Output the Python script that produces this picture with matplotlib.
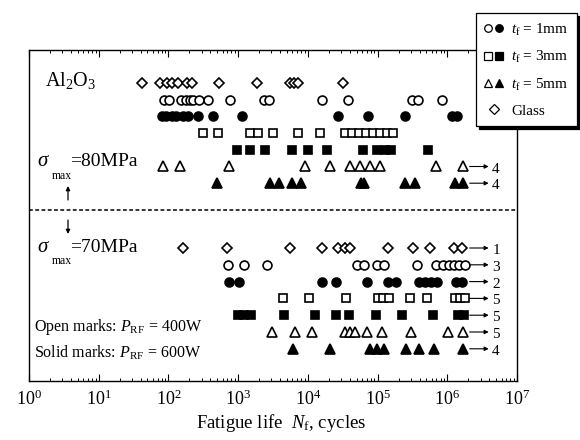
import numpy as np
import matplotlib
matplotlib.use('Agg')
import matplotlib.pyplot as plt
from matplotlib.lines import Line2D
from matplotlib.legend_handler import HandlerTuple
from matplotlib.ticker import LogLocator, LogFormatterMathtext, NullFormatter
from matplotlib.patches import FancyArrowPatch
import matplotlib.transforms as mtransforms

plt.rcParams['font.family'] = ['Liberation Serif', 'DejaVu Serif']
plt.rcParams['mathtext.fontset'] = 'custom'
plt.rcParams['mathtext.rm'] = 'Liberation Serif'
plt.rcParams['mathtext.it'] = 'Liberation Serif:italic'
plt.rcParams['mathtext.bf'] = 'Liberation Serif:bold'

# ---------------- data (fatigue life, cycles) ----------------
groups = ['Glass', 'tf1_400W', 'tf1_600W', 'tf3_400W', 'tf3_600W', 'tf5_400W', 'tf5_600W']

# sigma_max = 80 MPa
life80_glass = [42, 76, 95, 112, 137, 185, 218, 532, 1870, 5550, 6330, 7230, 31900]
life80_tf1_400 = [86, 102, 151, 179, 204, 225, 275, 370, 765, 2350, 2770, 16000, 37700,
                  312000, 380000, 841000]
life80_tf1_600 = [81, 92, 112, 128, 162, 191, 266, 436, 1140, 27100, 72900, 248000,
                  1170000, 1380000]
life80_tf3_400 = [313, 514, 1480, 1930, 3160, 7230, 14900, 34100, 43000, 54200, 68200,
                  86000, 108000, 137000, 167000]
life80_tf3_600 = [963, 1480, 2430, 5930, 10050, 18800, 61800, 98200, 128000, 156000, 529000]
life80_tf5_400 = [84, 147, 740, 9110, 20800, 40300, 56000, 78000, 108000, 689000, 1680000]
life80_tf5_600 = [498, 2870, 3860, 5930, 7980, 57900, 63900, 248000, 344000, 1290000, 1680000]
runout80 = [0, 0, 0, 0, 0, 4, 4]

# sigma_max = 70 MPa
life70_glass = [162, 692, 5550, 16000, 27100, 34100, 40300, 141000, 323000, 565000,
                1250000, 1630000]
life70_tf1_400 = [716, 1210, 2600, 50700, 63900, 98200, 124000, 368000, 689000, 869000,
                  1060000, 1250000, 1470000, 1800000]
life70_tf1_600 = [740, 1030, 16000, 25300, 70600, 141000, 184000, 393000, 480000, 584000,
                  713000, 1330000, 1630000]
life70_tf3_400 = [4400, 10400, 35300, 101000, 120000, 146000, 292000, 512000, 1290000,
                  1520000, 1800000]
life70_tf3_600 = [995, 1210, 1530, 4550, 12700, 25300, 38900, 95000, 224000, 624000,
                  1430000, 1740000]
life70_tf5_400 = [3060, 6540, 11500, 34100, 40300, 47500, 70600, 116000, 302000, 1030000,
                  1680000]
life70_tf5_600 = [6120, 20800, 78000, 98200, 124000, 256000, 393000, 645000, 1680000]
runout70 = [1, 3, 2, 5, 5, 5, 4]

legend_labels = [r'$t_{\rm f}$ = 1mm', r'$t_{\rm f}$ = 3mm', r'$t_{\rm f}$ = 5mm', 'Glass']
xtick_values = [1e0, 1e1, 1e2, 1e3, 1e4, 1e5, 1e6, 1e7]

blocks80 = [life80_glass, life80_tf1_400, life80_tf1_600, life80_tf3_400,
            life80_tf3_600, life80_tf5_400, life80_tf5_600]
blocks70 = [life70_glass, life70_tf1_400, life70_tf1_600, life70_tf3_400,
            life70_tf3_600, life70_tf5_400, life70_tf5_600]

# ---------------- styles ----------------
styles = [
    dict(marker='D', ms=5.6, mfc='white'),
    dict(marker='o', ms=6.4, mfc='white'),
    dict(marker='o', ms=6.4, mfc='black'),
    dict(marker='s', ms=6.4, mfc='white'),
    dict(marker='s', ms=6.4, mfc='black'),
    dict(marker='^', ms=7.2, mfc='white'),
    dict(marker='^', ms=7.2, mfc='black'),
]

W, H = 580, 440
fig = plt.figure(figsize=(W / 100, H / 100), dpi=100)
ax = fig.add_axes([29 / W, 1 - 381 / H, 488 / W, 331 / H])
ax.set_xscale('log')
ax.set_xlim(1, 1e7)
ax.set_ylim(331, 0)

row_y80 = [33 + 16.7 * k for k in range(7)]
row_y70 = [198 + 16.8 * k for k in range(7)]

for rows, block in ((row_y80, blocks80), (row_y70, blocks70)):
    for y, vals, st in zip(rows, block, styles):
        ax.plot(vals, [y] * len(vals), ls='none', marker=st['marker'], ms=st['ms'],
                mfc=st['mfc'], mec='black', mew=1.2, zorder=3)

# dashed separator
ax.axhline(160, color='black', lw=1.1, dashes=(2.5, 1.6))

# run-out arrows
trans = mtransforms.blended_transform_factory(ax.transAxes, ax.transData)
for rows, runs in ((row_y80, runout80), (row_y70, runout70)):
    for y, n in zip(rows, runs):
        if n:
            ax.annotate('', xy=(0.942, y), xytext=(0.903, y), xycoords=trans,
                        textcoords=trans,
                        arrowprops=dict(arrowstyle='-|>', lw=0.8, color='black',
                                        mutation_scale=6, shrinkA=0, shrinkB=0))
            ax.text(0.957, y + 2.5, str(n), transform=trans, ha='center', va='center',
                    fontsize=11)

# axes styling
for sp in ax.spines.values():
    sp.set_linewidth(1.0)
ax.set_xticks(xtick_values)
ax.xaxis.set_major_formatter(LogFormatterMathtext())
ax.xaxis.set_minor_locator(LogLocator(base=10, subs=np.arange(2, 10), numticks=100))
ax.xaxis.set_minor_formatter(NullFormatter())
ax.set_yticks([])
ax.tick_params(axis='x', which='major', direction='in', top=True, bottom=True,
               length=5, width=0.8, labelsize=13, pad=6)
ax.tick_params(axis='x', which='minor', direction='in', top=True, bottom=True,
               length=2.5, width=0.7)
ax.set_xlabel(r'Fatigue life  $N_{\rm f}$, cycles', fontsize=13.5, labelpad=2)
ax.xaxis.set_label_coords((281 - 29) / 488, -0.095)


def fx(x, y):
    return (x / W, 1 - y / H)


# texts
fig.text(*fx(45, 80), r'Al$_2$O$_3$', fontsize=14.5, ha='left', va='center')
for yc, lab in ((162, '=80MPa'), (247, '=70MPa')):
    fig.text(*fx(37, yc), r'$\sigma$', fontsize=15, ha='left', va='center')
    fig.text(*fx(52, yc + 14), 'max', fontsize=8.5, ha='left', va='center')
    fig.text(*fx(70, yc), lab, fontsize=14, ha='left', va='center')
fig.text(*fx(34, 327), r'Open marks: $P_{\rm RF}$ = 400W', fontsize=11.5, ha='left',
         va='center')
fig.text(*fx(34, 353), r'Solid marks: $P_{\rm RF}$ = 600W', fontsize=11.5, ha='left',
         va='center')

# small vertical arrows at the separator
fig.add_artist(FancyArrowPatch(fx(68, 200), fx(68, 186), transform=fig.transFigure,
                               arrowstyle='-|>', mutation_scale=6, lw=0.9,
                               color='black', shrinkA=0, shrinkB=0))
fig.add_artist(FancyArrowPatch(fx(68, 220), fx(68, 234), transform=fig.transFigure,
                               arrowstyle='-|>', mutation_scale=6, lw=0.9,
                               color='black', shrinkA=0, shrinkB=0))


# legend
def mk(i):
    st = styles[i]
    return Line2D([], [], ls='none', marker=st['marker'], ms=st['ms'] * 0.85,
                  mfc=st['mfc'], mec='black', mew=0.9)


handles = [(mk(1), mk(2)), (mk(3), mk(4)), (mk(5), mk(6)), mk(0)]
leg = fig.legend(handles, legend_labels,
                 handler_map={tuple: HandlerTuple(ndivide=None, pad=0.2)},
                 loc='upper left', bbox_to_anchor=fx(476, 13),
                 bbox_transform=fig.transFigure, frameon=True, fancybox=False,
                 edgecolor='black', framealpha=1, fontsize=11, borderpad=0.55,
                 labelspacing=0.75, handlelength=1.25, handletextpad=0.5,
                 borderaxespad=0, shadow={'color': 'black', 'alpha': 1})
leg.get_frame().set_linewidth(0.9)
leg.set_zorder(10)

fig.savefig('out.png', dpi=100)
